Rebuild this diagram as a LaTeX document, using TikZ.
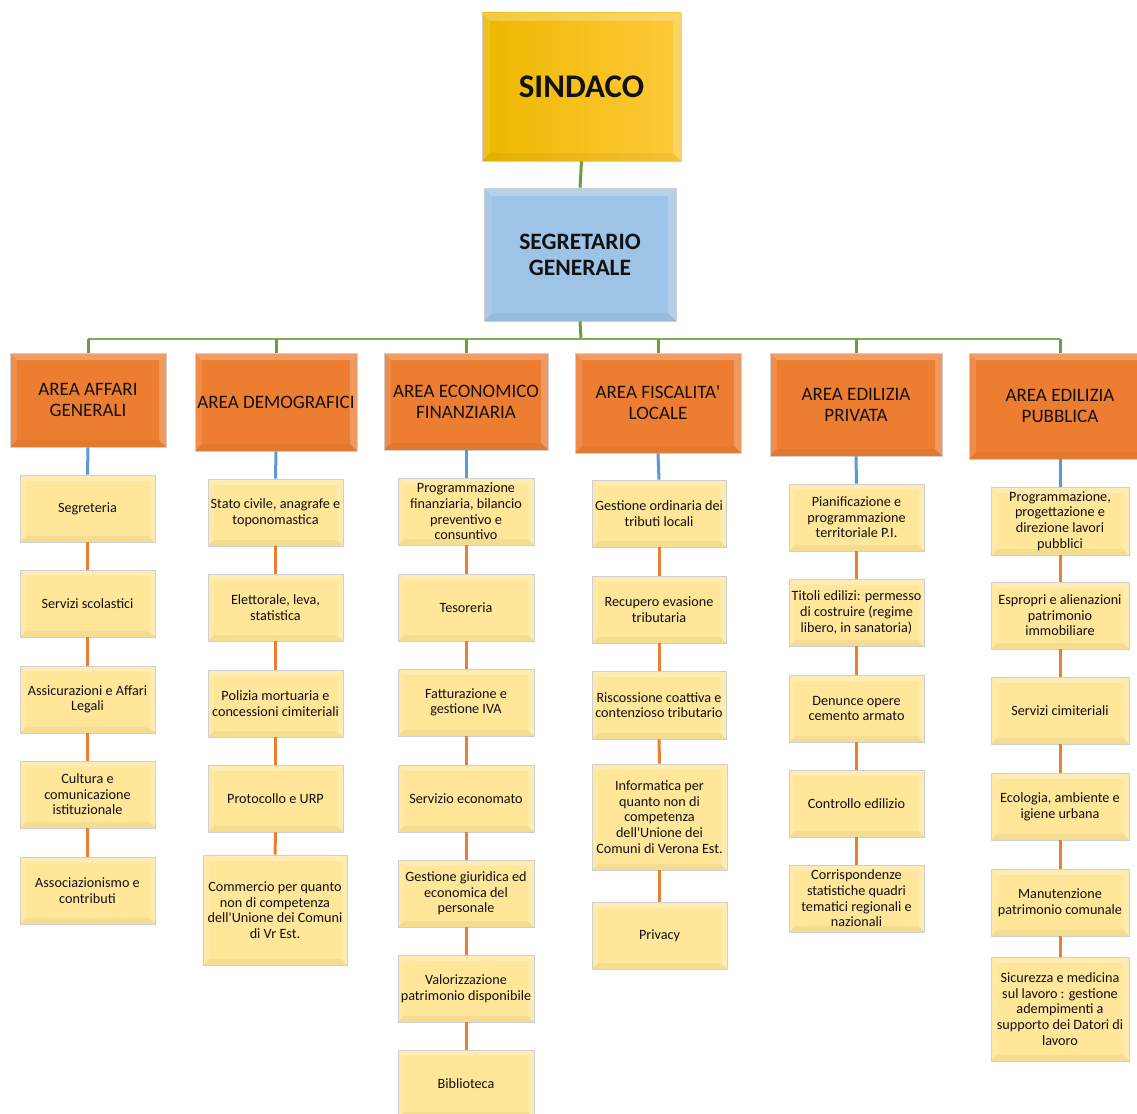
\documentclass[tikz,border=0pt]{standalone}
\usepackage{fontspec}
\setmainfont{Carlito}
\definecolor{gold1}{HTML}{EDB800}
\definecolor{gold2}{HTML}{FFC93A}
\definecolor{segblue}{HTML}{9DC3E6}
\definecolor{orng}{HTML}{ED7D31}
\definecolor{ylw}{HTML}{FFE699}
\definecolor{bordergray}{HTML}{CFCFCF}
\definecolor{grn}{HTML}{6A9E42}
\definecolor{lgrn}{HTML}{A9D18E}
\definecolor{blu}{HTML}{5B9BD5}
\definecolor{txt}{HTML}{111111}
\newcommand\apo{\textquotesingle}
\tikzset{
  bev/.style={path picture={
    \fill[white,opacity=.25] (path picture bounding box.north west) -- (path picture bounding box.north east)
      -- ([xshift=-#1,yshift=-#1]path picture bounding box.north east) -- ([xshift=#1,yshift=-#1]path picture bounding box.north west) -- cycle;
    \fill[white,opacity=.12] (path picture bounding box.north west) -- (path picture bounding box.south west)
      -- ([xshift=#1,yshift=#1]path picture bounding box.south west) -- ([xshift=#1,yshift=-#1]path picture bounding box.north west) -- cycle;
    \fill[white,opacity=.22] (path picture bounding box.north east) -- (path picture bounding box.south east)
      -- ([xshift=-#1,yshift=#1]path picture bounding box.south east) -- ([xshift=-#1,yshift=-#1]path picture bounding box.north east) -- cycle;
    \fill[black,opacity=.04] (path picture bounding box.south west) -- (path picture bounding box.south east)
      -- ([xshift=-#1,yshift=#1]path picture bounding box.south east) -- ([xshift=#1,yshift=#1]path picture bounding box.south west) -- cycle;
  }},
  basebox/.style={draw=bordergray, line width=.6pt, inner sep=1pt, align=center, text=txt},
  topbox/.style={basebox, left color=gold1, right color=gold2, bev=8pt,
    font=\fontsize{33}{38}\selectfont\bfseries},
  segbox/.style={basebox, fill=segblue, bev=8pt,
    font=\fontsize{23.5}{26}\selectfont\bfseries},
  areabox/.style={basebox, fill=orng, bev=7pt, font=\fontsize{19}{21}\selectfont},
  unitbox/.style={basebox, fill=ylw, bev=6pt, font=\fontsize{14.2}{15.6}\selectfont},
  gline/.style={draw=grn, line width=3pt},
  barline/.style={draw=grn!70!lgrn, line width=2.2pt},
  bline/.style={draw=blu, line width=3pt},
  oline/.style={draw=orng, line width=3pt}
}
\newcommand\bx[7]{\node[#6, minimum width={(#4-#2)*1pt}, minimum height={(#5-#3)*1pt}] (#1) at ({(#2+#4)/2},{(#3+#5)/2}) {#7};}
\begin{document}
\begin{tikzpicture}[x=1pt,y=-1pt]
\useasboundingbox[fill=white] (0,0) rectangle (1137,1113);
% top
\bx{sindaco}{482}{13}{681}{161}{topbox}{SINDACO}
\bx{seg}{484}{188}{676}{321}{segbox}{SEGRETARIO\\GENERALE}
% areas
\bx{a1}{10}{353}{166}{447}{areabox}{AREA AFFARI\\GENERALI}
\bx{a2}{195}{353}{357}{451}{areabox}{AREA DEMOGRAFICI}
\bx{a3}{384}{353}{548}{450}{areabox}{AREA ECONOMICO\\FINANZIARIA}
\bx{a4}{575}{353}{741}{453}{areabox}{AREA FISCALITA\apo\\LOCALE}
\bx{a5}{770}{353}{942}{456}{areabox}{AREA EDILIZIA\\PRIVATA}
\bx{a6}{969}{353}{1151}{459}{areabox}{AREA EDILIZIA\\PUBBLICA}
% column 1
\bx{c11}{20}{475}{155}{542}{unitbox}{Segreteria}
\bx{c12}{20}{570}{155}{637}{unitbox}{Servizi scolastici}
\bx{c13}{20}{666}{155}{733}{unitbox}{Assicurazioni e Affari\\Legali}
\bx{c14}{20}{761}{155}{828}{unitbox}{Cultura e\\comunicazione\\istituzionale}
\bx{c15}{20}{857}{155}{924}{unitbox}{Associazionismo e\\contributi}
% column 2
\bx{c21}{208}{479}{343}{546}{unitbox}{Stato civile, anagrafe e\\toponomastica}
\bx{c22}{208}{574}{343}{641}{unitbox}{Elettorale, leva,\\statistica}
\bx{c23}{208}{670}{343}{737}{unitbox}{Polizia mortuaria e\\concessioni cimiteriali}
\bx{c24}{208}{765}{343}{832}{unitbox}{Protocollo e URP}
\bx{c25}{203}{855}{347}{965}{unitbox}{Commercio per quanto\\non di competenza\\dell\apo Unione dei Comuni\\di Vr Est.}
% column 3
\bx{c31}{398}{478}{534}{545}{unitbox}{Programmazione\\finanziaria, bilancio\\preventivo e\\consuntivo}
\bx{c32}{398}{574}{534}{641}{unitbox}{Tesoreria}
\bx{c33}{398}{669}{534}{736}{unitbox}{Fatturazione e\\gestione IVA}
\bx{c34}{398}{765}{534}{832}{unitbox}{Servizio economato}
\bx{c35}{398}{860}{534}{927}{unitbox}{Gestione giuridica ed\\economica del\\personale}
\bx{c36}{398}{955}{534}{1022}{unitbox}{Valorizzazione\\patrimonio disponibile}
\bx{c37}{398}{1050}{534}{1118}{unitbox}{Biblioteca}
% column 4
\bx{c41}{592}{480}{726}{547}{unitbox}{Gestione ordinaria dei\\tributi locali}
\bx{c42}{592}{576}{726}{643}{unitbox}{Recupero evasione\\tributaria}
\bx{c43}{592}{671}{726}{739}{unitbox}{Riscossione coattiva e\\contenzioso tributario}
\bx{c44}{592}{764}{727}{870}{unitbox}{Informatica per\\quanto non di\\competenza\\dell\apo Unione dei\\Comuni di Verona Est.}
\bx{c45}{592}{902}{727}{969}{unitbox}{Privacy}
% column 5
\bx{c51}{789}{484}{924}{551}{unitbox}{Pianificazione e\\programmazione\\territoriale P.I.}
\bx{c52}{789}{579}{924}{646}{unitbox}{Titoli edilizi: permesso\\di costruire (regime\\libero, in sanatoria)}
\bx{c53}{789}{675}{924}{742}{unitbox}{Denunce opere\\cemento armato}
\bx{c54}{789}{770}{924}{837}{unitbox}{Controllo edilizio}
\bx{c55}{789}{865}{924}{932}{unitbox}{Corrispondenze\\statistiche quadri\\tematici regionali e\\nazionali}
% column 6
\bx{c61}{991}{487}{1129}{555}{unitbox}{Programmazione,\\progettazione e\\direzione lavori\\pubblici}
\bx{c62}{991}{582}{1129}{649}{unitbox}{Espropri e alienazioni\\patrimonio\\immobiliare}
\bx{c63}{991}{677}{1129}{744}{unitbox}{Servizi cimiteriali}
\bx{c64}{991}{773}{1129}{840}{unitbox}{Ecologia, ambiente e\\igiene urbana}
\bx{c65}{991}{869}{1129}{936}{unitbox}{Manutenzione\\patrimonio comunale}
\bx{c66}{991}{957}{1129}{1061}{unitbox}{Sicurezza e medicina\\sul lavoro : gestione\\adempimenti a\\supporto dei Datori di\\lavoro}
% connectors
\coordinate (bar) at (581,339);
\draw[gline] (sindaco.south) -- (seg.north);
\draw[gline] (seg.south) -- (bar);
\draw[barline] (a1.north |- bar) -- (a6.north |- bar);
\foreach \a in {a1,a2,a3,a4,a5,a6}{\draw[gline] (\a.north |- bar) -- (\a.north);}
\foreach \a/\c in {a1/c11,a2/c21,a3/c31,a4/c41,a5/c51,a6/c61}{\draw[bline] (\a.south) -- (\c.north);}
\foreach \p/\q in {c11/c12,c12/c13,c13/c14,c14/c15,
  c21/c22,c22/c23,c23/c24,c24/c25,
  c31/c32,c32/c33,c33/c34,c34/c35,c35/c36,c36/c37,
  c41/c42,c42/c43,c43/c44,c44/c45,
  c51/c52,c52/c53,c53/c54,c54/c55,
  c61/c62,c62/c63,c63/c64,c64/c65,c65/c66}{\draw[oline] (\p.south) -- (\q.north);}
\end{tikzpicture}
\end{document}
